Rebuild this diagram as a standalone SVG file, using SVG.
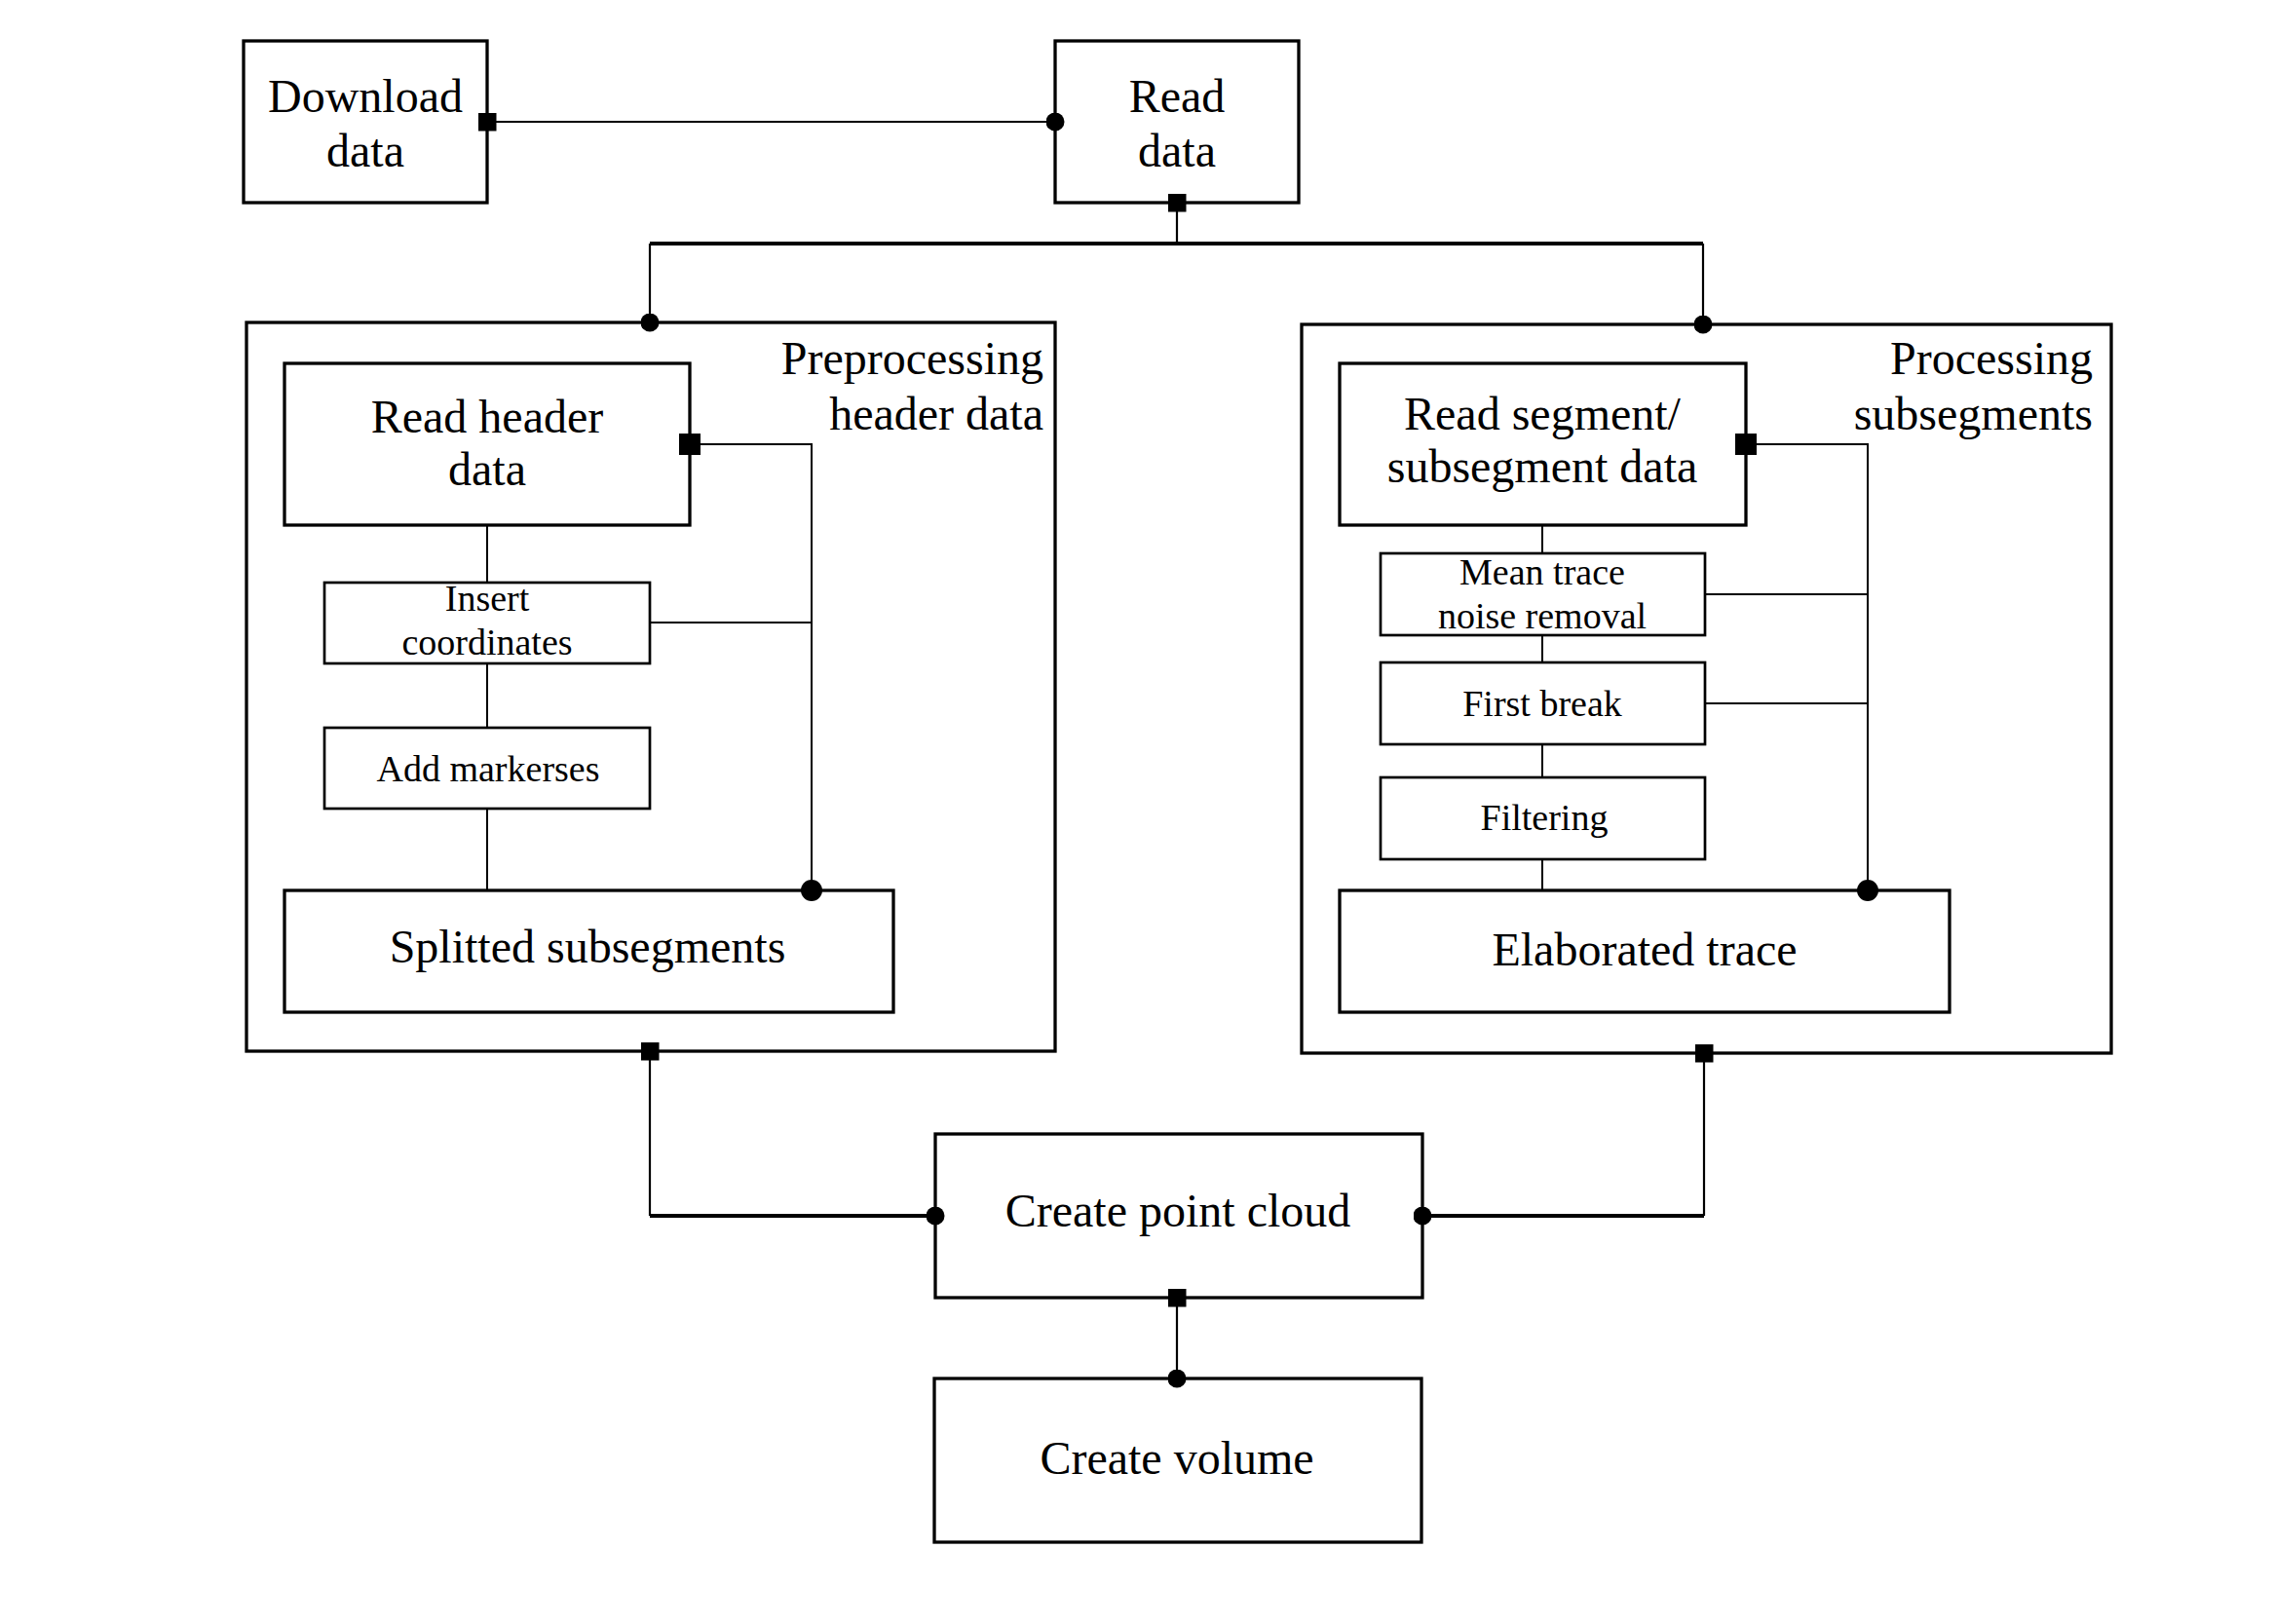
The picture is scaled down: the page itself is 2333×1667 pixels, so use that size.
<svg xmlns="http://www.w3.org/2000/svg" width="2333" height="1667" viewBox="0 0 2333 1667">
<style>
  .box{fill:none;stroke:#000;stroke-width:3.3}
  .sbox{fill:none;stroke:#000;stroke-width:2.7}
  .t{font-family:"Liberation Serif","DejaVu Serif",serif;font-size:48px;fill:#000;text-anchor:middle}
  .s{font-family:"Liberation Serif","DejaVu Serif",serif;font-size:38px;fill:#000;text-anchor:middle}
  .r{text-anchor:end}
  .c{fill:none;stroke:#000;stroke-width:2.2}
  .th{fill:none;stroke:#000;stroke-width:3.8}
  .tn{fill:none;stroke:#000;stroke-width:2}
</style>
<defs>
  <marker id="sqS" markerUnits="userSpaceOnUse" markerWidth="19" markerHeight="19" refX="9.5" refY="9.5" viewBox="0 0 19 19"><rect x="0" y="0" width="19" height="19" fill="#000"/></marker>
  <marker id="dotS" markerUnits="userSpaceOnUse" markerWidth="19" markerHeight="19" refX="9.5" refY="9.5" viewBox="0 0 19 19"><circle cx="9.5" cy="9.5" r="9.5" fill="#000"/></marker>
  <marker id="sqL" markerUnits="userSpaceOnUse" markerWidth="22" markerHeight="22" refX="11" refY="11" viewBox="0 0 22 22"><rect x="0" y="0" width="22" height="22" fill="#000"/></marker>
  <marker id="dotL" markerUnits="userSpaceOnUse" markerWidth="22" markerHeight="22" refX="11" refY="11" viewBox="0 0 22 22"><circle cx="11" cy="11" r="11" fill="#000"/></marker>
</defs>
<rect width="2333" height="1667" fill="#fff"/>

<g id="download-data">
  <rect class="box" x="250" y="42" width="250" height="166"/>
  <text class="t" x="375" y="115">Download</text>
  <text class="t" x="375" y="171">data</text>
</g>
<g id="read-data">
  <rect class="box" x="1083" y="42" width="250" height="166"/>
  <text class="t" x="1208" y="115">Read</text>
  <text class="t" x="1208" y="171">data</text>
</g>

<g id="preprocessing-header-data">
  <rect class="box" x="253" y="331" width="830" height="748"/>
  <text class="t r" x="1071" y="384">Preprocessing</text>
  <text class="t r" x="1071" y="441">header data</text>
</g>
<g id="read-header-data">
  <rect class="box" x="292" y="373" width="416" height="166"/>
  <text class="t" x="500" y="444">Read header</text>
  <text class="t" x="500" y="498">data</text>
</g>
<g id="insert-coordinates">
  <rect class="sbox" x="333" y="598" width="334" height="83"/>
  <text class="s" x="500" y="627">Insert</text>
  <text class="s" x="500" y="672">coordinates</text>
</g>
<g id="add-markerses">
  <rect class="sbox" x="333" y="747" width="334" height="83"/>
  <text class="s" x="501" y="802">Add markerses</text>
</g>
<g id="splitted-subsegments">
  <rect class="box" x="292" y="914" width="625" height="125"/>
  <text class="t" x="603" y="988">Splitted subsegments</text>
</g>

<g id="processing-subsegments">
  <rect class="box" x="1336" y="333" width="831" height="748"/>
  <text class="t r" x="2148" y="384">Processing</text>
  <text class="t r" x="2148" y="441">subsegments</text>
</g>
<g id="read-segment-data">
  <rect class="box" x="1375" y="373" width="417" height="166"/>
  <text class="t" x="1583" y="441">Read segment/</text>
  <text class="t" x="1583" y="495">subsegment data</text>
</g>
<g id="mean-trace-noise-removal">
  <rect class="sbox" x="1417" y="568" width="333" height="84"/>
  <text class="s" x="1583" y="600">Mean trace</text>
  <text class="s" x="1583" y="645">noise removal</text>
</g>
<g id="first-break">
  <rect class="sbox" x="1417" y="680" width="333" height="84"/>
  <text class="s" x="1583" y="735">First break</text>
</g>
<g id="filtering">
  <rect class="sbox" x="1417" y="798" width="333" height="84"/>
  <text class="s" x="1585" y="852">Filtering</text>
</g>
<g id="elaborated-trace">
  <rect class="box" x="1375" y="914" width="626" height="125"/>
  <text class="t" x="1688" y="991">Elaborated trace</text>
</g>

<g id="create-point-cloud">
  <rect class="box" x="960" y="1164" width="500" height="168"/>
  <text class="t" x="1209" y="1259">Create point cloud</text>
</g>
<g id="create-volume">
  <rect class="box" x="959" y="1415" width="500" height="168"/>
  <text class="t" x="1208" y="1513">Create volume</text>
</g>

<g id="connectors">
  <path class="c" d="M500,125 H1083" marker-start="url(#sqS)" marker-end="url(#dotS)"/>
  <path class="c" d="M1208,208 V250" marker-start="url(#sqS)"/>
  <path class="th" d="M667,250 H1748"/>
  <path class="c" d="M667,250 V331" stroke-width="2.8" marker-end="url(#dotS)"/>
  <path class="c" d="M1748,250 V333" stroke-width="2.8" marker-end="url(#dotS)"/>

  <path class="tn" d="M500,539 V598 M500,681 V747 M500,830 V914"/>
  <path class="tn" d="M708,456 H833 V914" marker-start="url(#sqL)" marker-end="url(#dotL)"/>
  <path class="tn" d="M667,639 H833"/>

  <path class="tn" d="M1583,539 V568 M1583,652 V680 M1583,764 V798 M1583,882 V914"/>
  <path class="tn" d="M1792,456 H1917 V914" marker-start="url(#sqL)" marker-end="url(#dotL)"/>
  <path class="tn" d="M1750,610 H1917 M1750,722 H1917"/>

  <path class="c" d="M667,1079 V1248" stroke-width="2.8" marker-start="url(#sqS)"/>
  <path class="th" d="M667,1248 H960" marker-end="url(#dotS)"/>
  <path class="c" d="M1749,1081 V1248" stroke-width="2.8" marker-start="url(#sqS)"/>
  <path class="th" d="M1749,1248 H1460" marker-end="url(#dotS)"/>
  <path class="c" d="M1208,1332 V1415" stroke-width="2.8" marker-start="url(#sqS)" marker-end="url(#dotS)"/>
</g>
</svg>
